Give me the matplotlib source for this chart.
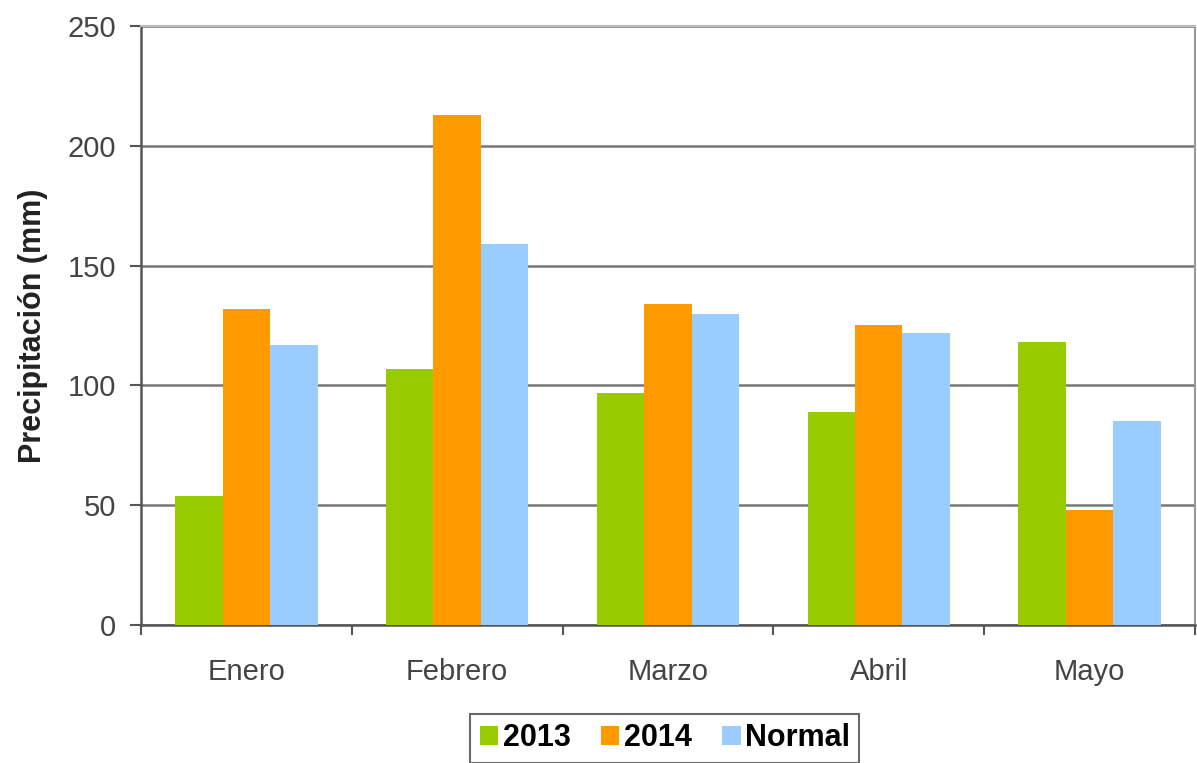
import matplotlib
matplotlib.use("Agg")
import matplotlib.pyplot as plt
import numpy as np

months = ["Enero", "Febrero", "Marzo", "Abril", "Mayo"]
series_names = ["2013", "2014", "Normal"]
v2013 = [54, 107, 97, 89, 118]
v2014 = [132, 213, 134, 125, 48]
vnormal = [117, 159, 130, 122, 85]
yticks = [0, 50, 100, 150, 200, 250]

colors = ["#99CC00", "#FF9900", "#99CCFF"]

plt.rcParams['font.family'] = ['Liberation Sans', 'DejaVu Sans']

fig = plt.figure(figsize=(11.97, 7.63), dpi=100)
ax = fig.add_axes([0.1178, 0.1809, 0.8805, 0.785])

x = np.arange(len(months))
w = 0.225
for i, (vals, c, name) in enumerate(zip([v2013, v2014, vnormal], colors, series_names)):
    ax.bar(x + (i - 1) * w, vals, width=w, color=c, label=name, zorder=3)

ax.set_xlim(-0.5, len(months) - 0.5)
ax.set_ylim(0, 250)
ax.set_yticks(yticks)
ax.set_yticklabels([str(t) for t in yticks], fontsize=21, color="#444444")
ax.set_xticks(x)
ax.set_xticklabels(months, fontsize=21, color="#444444")
ax.tick_params(axis='x', which='major', length=0, pad=24)
ax.set_xticks(np.arange(-0.5, len(months)), minor=True)
ax.tick_params(axis='x', which='minor', length=7, width=1.5, color="#555555", direction='out')
ax.tick_params(axis='y', length=8, width=1.5, color="#555555", direction='out', pad=10)

ax.grid(axis='y', color="#777777", linewidth=1.8, zorder=1)
for s in ['left', 'bottom']:
    ax.spines[s].set_color("#555555")
    ax.spines[s].set_linewidth(1.8)
ax.spines['top'].set_color("#bbbbbb")
ax.spines['top'].set_linewidth(1.5)
ax.spines['right'].set_color("#999999")
ax.spines['right'].set_linewidth(1.5)

ax.set_ylabel("Precipitación (mm)", fontsize=22, fontweight='bold', color="#222222", labelpad=14)

leg = fig.legend(loc='upper center', bbox_to_anchor=(0.5555, 0.064), ncol=3,
                 prop={'weight': 'bold', 'size': 22}, frameon=True, fancybox=False,
                 handlelength=0.6, handleheight=0.6, handletextpad=0.15, columnspacing=1.0,
                 borderpad=0.3, borderaxespad=0)
leg.get_frame().set_edgecolor("#444444")
leg.get_frame().set_linewidth(1.5)

fig.savefig("out.png", dpi=100)
